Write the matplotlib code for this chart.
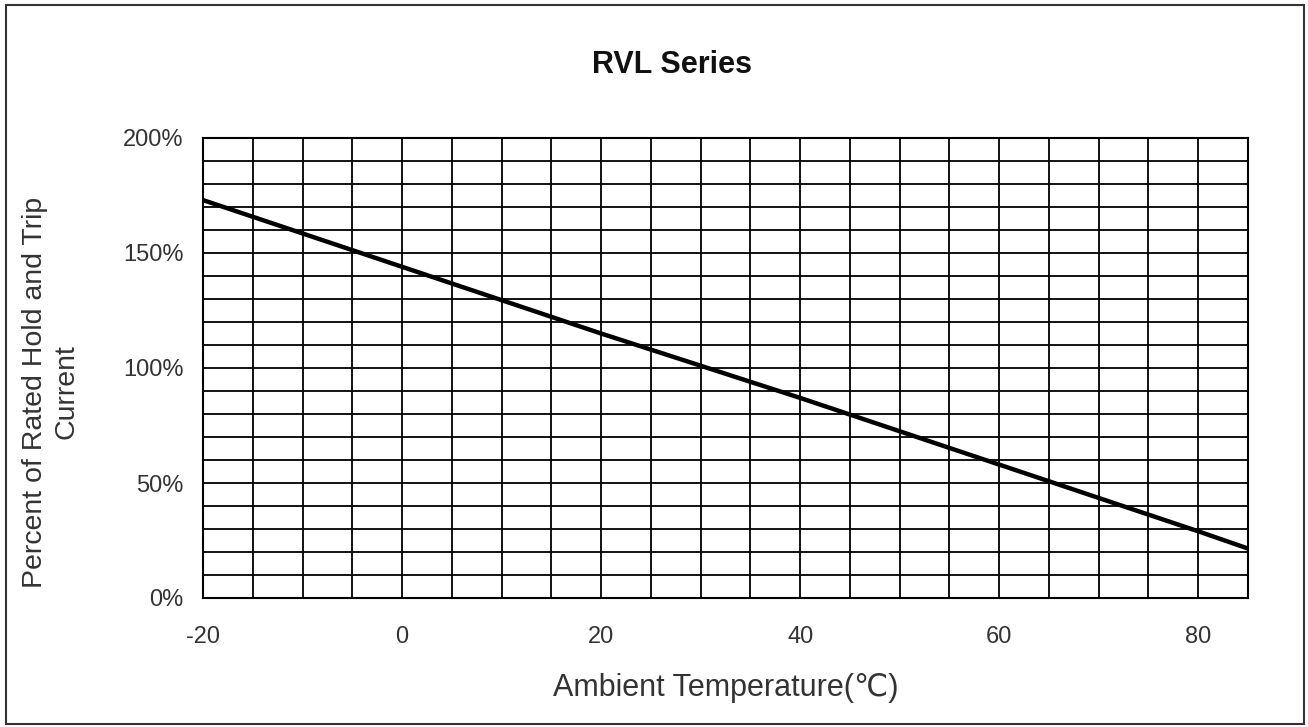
import numpy as np
import matplotlib
matplotlib.use("Agg")
import matplotlib.pyplot as plt
from matplotlib.patches import Rectangle

plt.rcParams['font.family'] = ['Liberation Sans', 'DejaVu Sans']
plt.rcParams['axes.unicode_minus'] = False

# ======================== Data ========================
temp = [-20, 0, 20, 40, 60, 80, 85]            # ambient temperature (C)
percent = [173, 144, 115, 87, 58, 29, 21.5]   # percent of rated current
x_ticks = [-20, 0, 20, 40, 60, 80]
y_ticks = [0, 50, 100, 150, 200]
y_tick_labels = ['0%', '50%', '100%', '150%', '200%']

# ======================== Figure ========================
fig = plt.figure(figsize=(13.08, 7.27), dpi=100)
ax = fig.add_axes([203/1308, 1 - 598/727, (1248-203)/1308, (598-138)/727])

# outer frame of the picture
fig.patches.append(Rectangle((6/1308, 3/727), 1298/1308, 719/727,
                             transform=fig.transFigure, fill=False,
                             edgecolor='#333333', lw=1.5))

ax.plot(temp, percent, color='black', lw=3.2, solid_capstyle='butt', zorder=3)

ax.set_xlim(-20, 85)
ax.set_ylim(0, 200)
ax.set_xticks(x_ticks)
ax.set_yticks(y_ticks)
ax.set_yticklabels(y_tick_labels)
ax.set_xticks(np.arange(-20, 86, 5), minor=True)
ax.set_yticks(np.arange(0, 201, 10), minor=True)
ax.grid(which='both', color='black', lw=1.3)
ax.tick_params(which='both', length=0)
ax.tick_params(axis='y', pad=14, labelsize=17, labelcolor='#333333')
ax.tick_params(axis='x', pad=20, labelsize=17, labelcolor='#333333')
for s in ax.spines.values():
    s.set_linewidth(1.5)

fig.text(672/1308, 1 - 65/727, 'RVL Series', fontsize=22, fontweight='bold',
         ha='center', va='center', color='#111111')
ax.set_xlabel('Ambient Temperature(\u2103)', fontsize=22, labelpad=18, color='#333333')
fig.text(51/1308, 1 - 392/727, 'Percent of Rated Hold and Trip\nCurrent',
         fontsize=20.5, rotation=90, ha='center', va='center',
         multialignment='center', linespacing=1.25, color='#333333')

fig.savefig('out.png', dpi=100)
